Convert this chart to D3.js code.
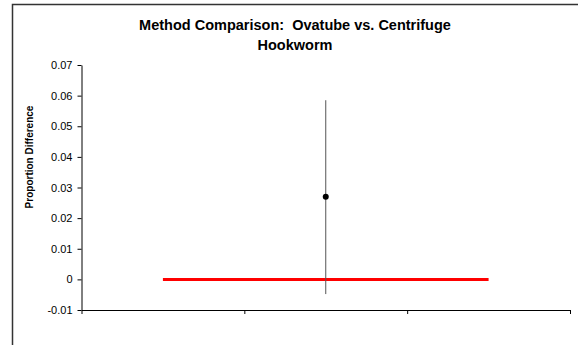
<!DOCTYPE html>
<html>
<head>
<meta charset="utf-8">
<script src="https://cdn.jsdelivr.net/npm/d3@7"></script>
<style>
  body { margin: 0; background: #fff; }
  svg { display: block; font-family: "Liberation Sans", Arial, sans-serif; }
</style>
</head>
<body>
<div id="chart"></div>
<script>
// data
const yTicks = [-0.01, 0, 0.01, 0.02, 0.03, 0.04, 0.05, 0.06, 0.07];
const xTicks = [0, 1, 2, 3];
const pointX = [1.5];
const pointY = [0.027];
const errLow = [-0.0048];
const errHigh = [0.0585];
const refLineX = [0.5, 2.5];
const refLineY = [0, 0];

const width = 578, height = 345;
const plot = { left: 81.5, right: 570, top: 65, bottom: 310 };

const svg = d3.select("#chart").append("svg")
  .attr("width", width)
  .attr("height", height);

// outer chart frame
svg.append("rect")
  .attr("x", 12.5).attr("y", 4.5)
  .attr("width", 580).attr("height", 360)
  .attr("fill", "none")
  .attr("stroke", "#333")
  .attr("stroke-width", 1.5);

const x = d3.scaleLinear().domain([0, 3]).range([plot.left, plot.right]);
const y = d3.scaleLinear().domain([-0.01, 0.07]).range([plot.bottom, plot.top]);

// title
svg.append("text")
  .attr("x", 295).attr("y", 30)
  .attr("text-anchor", "middle")
  .style("font-size", "14.5px").style("font-weight", "bold")
  .style("white-space", "pre")
  .text("Method Comparison:  Ovatube vs. Centrifuge");
svg.append("text")
  .attr("x", 295).attr("y", 50)
  .attr("text-anchor", "middle")
  .style("font-size", "14.5px").style("font-weight", "bold")
  .text("Hookworm");

// y axis
const yAxis = svg.append("g")
  .attr("transform", "translate(" + plot.left + ",0)")
  .call(d3.axisLeft(y).tickValues(yTicks).tickSize(4).tickSizeOuter(0)
    .tickFormat(d => d === 0 ? "0" : d3.format(".2f")(d).replace("\u2212", "-")));
yAxis.select(".domain").attr("stroke", "#000");
yAxis.selectAll("text").style("font-size", "11px").attr("fill", "#000").attr("x", -9);

// x axis
const xAxis = svg.append("g")
  .attr("transform", "translate(0," + plot.bottom + ")")
  .call(d3.axisBottom(x).tickValues(xTicks).tickSize(4).tickSizeOuter(0).tickFormat(""));
xAxis.select(".domain").attr("stroke", "#000");

// y label
svg.append("text")
  .attr("transform", "translate(33," + 157 + ") rotate(-90)")
  .attr("text-anchor", "middle")
  .style("font-size", "10px").style("font-weight", "bold")
  .text("Proportion Difference");

// reference line at zero
svg.append("line")
  .attr("x1", x(refLineX[0])).attr("x2", x(refLineX[1]))
  .attr("y1", y(refLineY[0])).attr("y2", y(refLineY[1]))
  .attr("stroke", "#ff0000")
  .attr("stroke-width", 3);

// error bar
svg.selectAll(".err")
  .data(pointX)
  .enter().append("line")
  .attr("x1", d => x(d)).attr("x2", d => x(d))
  .attr("y1", (d, i) => y(errHigh[i]))
  .attr("y2", (d, i) => y(errLow[i]))
  .attr("stroke", "#555")
  .attr("stroke-width", 1);

// point
svg.selectAll(".pt")
  .data(pointX)
  .enter().append("circle")
  .attr("cx", d => x(d))
  .attr("cy", (d, i) => y(pointY[i]))
  .attr("r", 3)
  .attr("fill", "#000");
</script>
</body>
</html>
